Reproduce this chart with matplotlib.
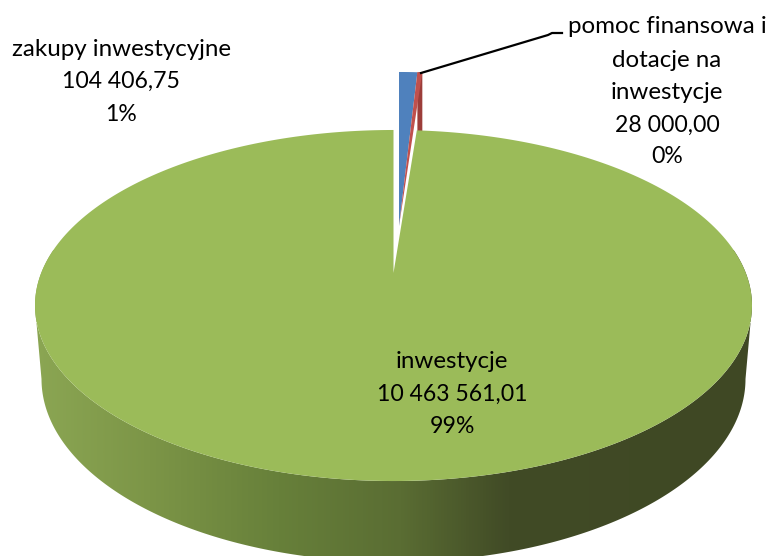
import numpy as np
import matplotlib
matplotlib.use("Agg")
import matplotlib.pyplot as plt
from matplotlib.colors import LinearSegmentedColormap
from matplotlib.patches import Polygon

categories = ["zakupy inwestycyjne", "pomoc finansowa i\ndotacje na\ninwestycje", "inwestycje"]
values = [104406.75, 28000.00, 10463561.01]
value_labels = ["104 406,75", "28 000,00", "10 463 561,01"]
percent_labels = ["1%", "0%", "99%"]
colors = ["#4f81bd", "#c0504d", "#9bbb59"]
wall_dark_red = "#9c3d3a"
wall_stops = [(0.0, "#8ba653"), (0.16, "#7c9547"), (0.34, "#67803a"),
              (0.51, "#5a6d33"), (0.66, "#414b26"), (1.0, "#3f4824")]

W, H = 771, 556
fig = plt.figure(figsize=(W / 100, H / 100), dpi=100)
ax = fig.add_axes([0, 0, 1, 1])
ax.set_xlim(0, W)
ax.set_ylim(H, 0)
ax.axis("off")

# Perspective projection of the unit pie disc onto pixels
R, S, K = 352.3, 169.5, 0.1852


def project(theta, r=1.0, ox=393.5, oy=273.0, sy=1.0):
    """theta: degrees clockwise from 12 o'clock."""
    t = np.radians(theta)
    u, v = r * np.sin(t), -r * np.cos(t)
    d = 1 - K * v
    return ox + R * u / d, oy + sy * S * v / d


fractions = np.array(values) / sum(values)
edges = np.concatenate([[0], np.cumsum(fractions) * 360])


def wedge(a0, a1, **kw):
    th = np.linspace(a0, a1, 300)
    x, y = project(th, **kw)
    ax0, ay0 = project(0.0, r=0.0, **kw)
    return np.column_stack([np.r_[ax0, x], np.r_[ay0, y]])


# side wall of the big slice with a horizontal gradient
th = np.linspace(70, 290, 400)
tx, ty = project(th)
bth = np.linspace(90, 270, 300)
bx = 393.5 + 352 * np.sin(np.radians(bth))
by = 379 - 183 * np.cos(np.radians(bth))
wall_x = np.r_[tx, 36.5, bx[::-1], 750.5]
wall_y = np.r_[ty, 323, by[::-1], 323]
wall = Polygon(np.column_stack([wall_x, wall_y]),
               closed=True, transform=ax.transData, fc="none", ec="none")
ax.add_patch(wall)
cmap = LinearSegmentedColormap.from_list("wall", wall_stops)
im = ax.imshow(np.linspace(0, 1, 512)[None, :], cmap=cmap, aspect="auto",
               extent=(35, 752, H, 250), zorder=1)
im.set_clip_path(wall)
ax.set_xlim(0, W)
ax.set_ylim(H, 0)

# raised small slices
lift = dict(ox=399.0, oy=226.0, sy=154.0 / 143.0)
rx0, ry0 = project(edges[1], **lift)
rx1, ry1 = project(edges[2], **lift)
ax.add_patch(Polygon([(rx0, ry0), (rx1, ry1), (rx1, ry1 + 60), (rx0, ry0 + 60)],
                     fc=wall_dark_red, ec="none", zorder=2))
ax.add_patch(Polygon(wedge(edges[0], edges[1], **lift), fc=colors[0], ec="none", zorder=3))
ax.add_patch(Polygon(wedge(edges[1], edges[2], **lift), fc=colors[1], ec="none", zorder=3))

# green top
ax.add_patch(Polygon(wedge(edges[2], 360.0), fc=colors[2], ec="none", zorder=4))

# leader
ax.plot([421, 548, 552, 562], [73, 35, 33, 33], color="black", lw=1.6, zorder=5,
        solid_joinstyle="round")


def label(x, baselines, idx):
    words = categories[idx].split("\n")
    numbers = [value_labels[idx], percent_labels[idx]]
    lines = [(w, 17.4) for w in words] + [(n, 16.6) for n in numbers]
    for y, (line, size) in zip(baselines, lines):
        ax.text(x, y, line, family="Lato", fontsize=size, color="black",
                ha="center", va="baseline", zorder=6)


label(121, [56, 88, 121], 0)
label(667, [33, 67, 99, 132, 163], 1)
label(452, [368, 401, 433], 2)

fig.savefig("out.png", dpi=100)
